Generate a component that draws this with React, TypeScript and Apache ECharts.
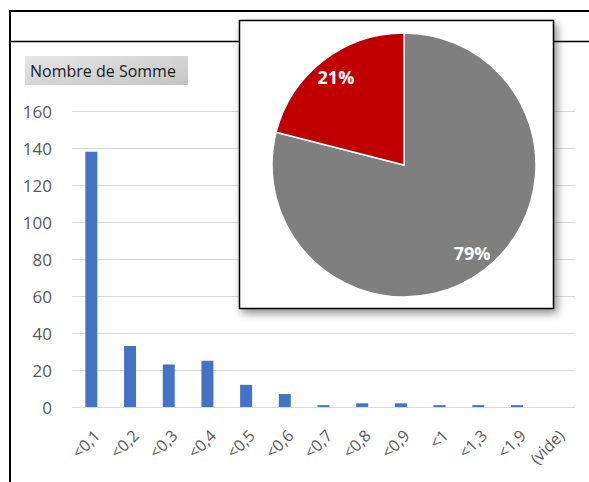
import React, { useEffect, useRef } from "react";
import * as echarts from "echarts";

const categories = ["<0,1", "<0,2", "<0,3", "<0,4", "<0,5", "<0,6", "<0,7", "<0,8", "<0,9", "<1", "<1,3", "<1,9", "(vide)"];
const counts = [138, 33, 23, 25, 12, 7, 1, 2, 2, 1, 1, 1, 0];
const pieNames = ["Autre", "Part"];
const pieValues = [79, 21];
const pieColors = ["#7F7F7F", "#C00000"];
const buttonLabel = "Nombre de Somme";

const FONT = "'Open Sans', 'DejaVu Sans', sans-serif";

export default function App() {
  const ref = useRef<HTMLDivElement>(null);
  useEffect(() => {
    if (!ref.current) return;
    const chart = echarts.init(ref.current, null, { renderer: "svg" });
    const pieData = pieValues.map((v, i) => ({ name: pieNames[i], value: v, itemStyle: { color: pieColors[i] } }));
    chart.setOption({
      animation: false,
      textStyle: { fontFamily: FONT },
      grid: { left: 72, top: 111, width: 503, height: 296, containLabel: false },
      xAxis: {
        type: "category",
        data: categories,
        axisLine: { show: false },
        axisTick: { show: false },
        axisLabel: {
          interval: 0,
          rotate: 45,
          color: "#595959",
          fontSize: 16,
          margin: 20,
          verticalAlign: "top",
          fontFamily: FONT,
        },
      },
      yAxis: {
        type: "value",
        min: 0,
        max: 160,
        interval: 20,
        axisLine: { show: false },
        axisTick: { show: false },
        splitLine: { lineStyle: { color: "#D9D9D9", width: 1.2 } },
        axisLabel: { color: "#595959", fontSize: 17, margin: 20, fontFamily: FONT },
      },
      graphic: [
        { type: "line", shape: { x1: 9, y1: 11, x2: 589, y2: 11 }, style: { stroke: "#000", lineWidth: 2 }, z: 1 },
        { type: "line", shape: { x1: 9, y1: 41.5, x2: 589, y2: 41.5 }, style: { stroke: "#000", lineWidth: 1.5 }, z: 1 },
        { type: "line", shape: { x1: 10, y1: 10, x2: 10, y2: 482 }, style: { stroke: "#000", lineWidth: 2 }, z: 1 },
        {
          type: "rect",
          shape: { x: 25, y: 56, width: 163, height: 29 },
          style: {
            fill: new echarts.graphic.LinearGradient(0, 0, 1, 1, [
              { offset: 0, color: "#E6E6E6" },
              { offset: 1, color: "#C4C4C4" },
            ]),
          },
          z: 1,
        },
        {
          type: "text",
          x: 30,
          y: 71,
          style: { text: buttonLabel, fill: "#1A1A1A", fontSize: 16, fontFamily: FONT, verticalAlign: "middle" },
          z: 2,
        },
        {
          type: "rect",
          shape: { x: 239.5, y: 20.5, width: 314, height: 288 },
          style: {
            fill: "#FFFFFF",
            stroke: "#000000",
            lineWidth: 1.5,
            shadowBlur: 8,
            shadowOffsetX: 3,
            shadowOffsetY: 4,
            shadowColor: "rgba(0,0,0,0.45)",
          },
          z: 5,
        },
      ],
      series: [
        {
          type: "bar",
          data: counts,
          barWidth: 12,
          itemStyle: { color: "#4472C4" },
          z: 2,
        },
        {
          type: "pie",
          center: [404, 165],
          radius: [0, 132],
          startAngle: 90,
          clockwise: true,
          data: pieData,
          label: { show: false },
          labelLine: { show: false },
          itemStyle: { borderColor: "#FFFFFF", borderWidth: 1.5 },
          silent: true,
          z: 10,
        },
        {
          type: "pie",
          center: [404, 165],
          radius: [84, 132],
          startAngle: 90,
          clockwise: true,
          data: pieValues.map((v, i) => ({ name: pieNames[i], value: v })),
          itemStyle: { color: "rgba(0,0,0,0)", borderWidth: 0 },
          label: {
            show: true,
            position: "inside",
            formatter: (p: any) => Math.round(p.percent) + "%",
            color: "#FFFFFF",
            fontSize: 18,
            fontWeight: "bold",
            fontFamily: FONT,
          },
          labelLine: { show: false },
          silent: true,
          z: 11,
        },
      ],
    });
    return () => chart.dispose();
  }, []);
  return (
    <div
      ref={ref}
      style={{ position: "fixed", left: 0, top: 0, width: 589, height: 482, background: "#FFFFFF" }}
    />
  );
}
